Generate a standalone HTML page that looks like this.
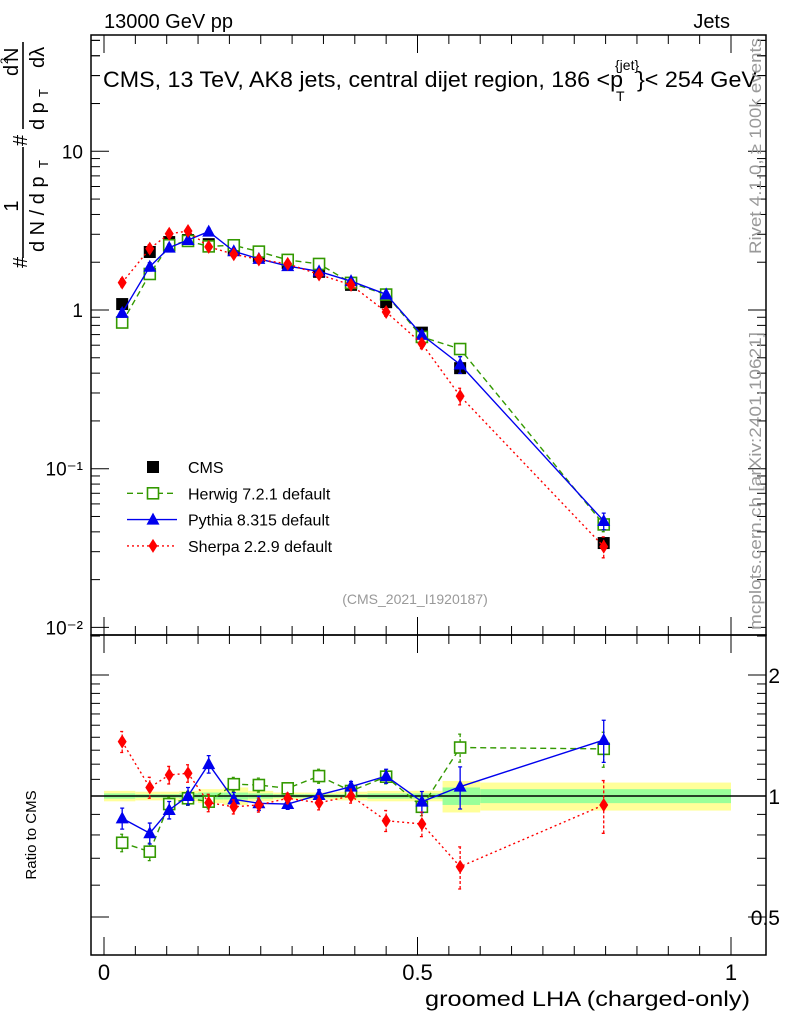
<!DOCTYPE html>
<html><head><meta charset="utf-8"><style>
body{margin:0;background:#fff;}
svg{display:block;font-family:"Liberation Sans",sans-serif;}
</style></head><body>
<svg id="c" width="786" height="1024" viewBox="0 0 786 1024"></svg>
<script>
const categories=[0.029,0.073,0.104,0.134,0.167,0.207,0.247,0.293,0.343,0.394,0.45,0.507,0.568,0.797];
const binEdges=[0,0.05,0.09,0.12,0.15,0.19,0.23,0.27,0.32,0.37,0.42,0.48,0.54,0.6,1.0];
const cmsValues=[1.09,2.32,2.68,2.76,2.6,2.39,2.19,1.98,1.74,1.44,1.12,0.72,0.43,0.034];
const herwigRatio=[0.765,0.727,0.955,0.987,0.968,1.07,1.065,1.045,1.121,1.029,1.117,0.94,1.32,1.31];
const pythiaRatio=[0.88,0.808,0.923,1.0,1.2,0.981,0.959,0.955,1.006,1.055,1.121,0.968,1.055,1.378];
const sherpaRatio=[1.365,1.05,1.128,1.139,0.962,0.94,0.95,0.987,0.962,1.0,0.868,0.852,0.667,0.95];
const herwigErr=[0.05,0.05,0.04,0.04,0.04,0.04,0.04,0.03,0.04,0.03,0.04,0.05,0.08,0.1];
const pythiaErr=[0.06,0.06,0.05,0.05,0.05,0.04,0.04,0.03,0.03,0.03,0.04,0.06,0.12,0.12];
const sherpaErr=[0.06,0.06,0.05,0.05,0.05,0.04,0.04,0.03,0.04,0.04,0.06,0.07,0.12,0.15];
const bandTotal=[0.03,0.025,0.025,0.03,0.04,0.05,0.03,0.02,0.02,0.025,0.03,0.03,0.09,0.08];
const bandStat=[0.015,0.01,0.01,0.015,0.02,0.02,0.015,0.01,0.01,0.01,0.015,0.015,0.05,0.04];
const mainTicks=[0.01,0.1,1,10];
const mainTickLabels=["10\u207B\u00B2","10\u207B\u00B9","1","10"];
const ratioTicks=[0.5,1,2];
const ratioTickLabels=["0.5","1","2"];
const xTicks=[0,0.5,1];
const xTickLabels=["0","0.5","1"];

const NS="http://www.w3.org/2000/svg";
const svg=document.getElementById('c');
function el(tag,attrs,parent){const e=document.createElementNS(NS,tag);for(const k in attrs)e.setAttribute(k,attrs[k]);(parent||svg).appendChild(e);return e;}
const L=91,R=766,T=35,MB=635,RB=955;
const X=v=>104+627*v;
const Y=v=>310-158.7*Math.log10(v);
const YR=r=>796-121*Math.log2(r);

let f=el('rect',{x:L,y:T,width:R-L,height:MB-T,fill:'none',stroke:'#000','stroke-width':1.5});

let f2=el('rect',{x:L,y:MB,width:R-L,height:RB-MB,fill:'none',stroke:'#000','stroke-width':1.5});


for(let i=0;i<categories.length;i++){
  const x0=X(binEdges[i]),x1=X(binEdges[i+1]);
  let b=el('rect',{x:x0,y:YR(1+bandTotal[i]),width:x1-x0,height:YR(1-bandTotal[i])-YR(1+bandTotal[i]),fill:'#ffff99'});
  
  let g=el('rect',{x:x0,y:YR(1+bandStat[i]),width:x1-x0,height:YR(1-bandStat[i])-YR(1+bandStat[i]),fill:'#99ff99'});
  
}
let one=el('line',{x1:L,x2:R,y1:YR(1),y2:YR(1),stroke:'#000','stroke-width':1.5});


for(let d=-2;d<=1;d++){for(let m=1;m<10;m++){const v=m*Math.pow(10,d);const y=Y(v);if(y<T||y>MB)continue;const len=m==1?18:9;
  el('line',{x1:L,x2:L+len,y1:y,y2:y,stroke:'#000'});el('line',{x1:R,x2:R-len,y1:y,y2:y,stroke:'#000'});}}
for(const v of [20,30,40,50]){const y=Y(v);if(y>T){el('line',{x1:L,x2:L+9,y1:y,y2:y,stroke:'#000'});el('line',{x1:R,x2:R-9,y1:y,y2:y,stroke:'#000'});}}
mainTicks.forEach((v,i)=>{let t=el('text',{x:L-8,y:Y(v)+7,'text-anchor':'end','font-size':19});t.textContent=mainTickLabels[i];
  });
[0.4,0.5,0.6,0.7,0.8,0.9,1,1.1,1.2,1.3,1.4,1.5,1.6,1.7,1.8,1.9,2,2.5].forEach(v=>{const y=YR(v);if(y<MB||y>RB)return;const len=[0.5,1,2].includes(v)?18:9;
  el('line',{x1:L,x2:L+len,y1:y,y2:y,stroke:'#000'});el('line',{x1:R,x2:R-len,y1:y,y2:y,stroke:'#000'});});
ratioTicks.forEach((v,i)=>{let t=el('text',{x:780,y:YR(v)+8,'font-size':21,'text-anchor':'end'});t.textContent=ratioTickLabels[i];
  });
for(let k=0;k<=20;k++){const v=k*0.05;const x=X(v);if(x>R)continue;const len=k%10==0?18:9;
  el('line',{x1:x,x2:x,y1:MB,y2:MB-len,stroke:'#000'});el('line',{x1:x,x2:x,y1:T,y2:T+len,stroke:'#000'});
  el('line',{x1:x,x2:x,y1:RB,y2:RB-len,stroke:'#000'});el('line',{x1:x,x2:x,y1:MB,y2:MB+len,stroke:'#000'});}
xTicks.forEach((v,i)=>{let t=el('text',{x:X(v),y:980,'text-anchor':'middle','font-size':22});t.textContent=xTickLabels[i];
  });

const series=[
 {name:'herwig',ratio:herwigRatio,err:herwigErr,color:'#339900',dash:'6,4',marker:'sq'},
 {name:'pythia',ratio:pythiaRatio,err:pythiaErr,color:'#0000ee',dash:'',marker:'tri'},
 {name:'sherpa',ratio:sherpaRatio,err:sherpaErr,color:'#ff0000',dash:'2,3',marker:'dia'}];
function marker(type,x,y,c,name){let m;
  if(type=='sq')m=el('rect',{x:x-5.5,y:y-5.5,width:11,height:11,fill:'#fff',stroke:c,'stroke-width':1.6});
  else if(type=='tri')m=el('polygon',{points:`${x},${y-7} ${x-6.5},${y+5} ${x+6.5},${y+5}`,fill:c});
  else if(type=='dia')m=el('polygon',{points:`${x},${y-7} ${x-4.5},${y} ${x},${y+7} ${x+4.5},${y}`,fill:c});
  else m=el('rect',{x:x-6,y:y-6,width:12,height:12,fill:'#000'});
  }
function drawSeries(s,ratioPanel){
  const vals=categories.map((c,i)=>ratioPanel?s.ratio[i]:s.ratio[i]*cmsValues[i]);
  const yf=ratioPanel?YR:Y;
  let d=vals.map((v,i)=>(i?'L':'M')+X(categories[i])+','+yf(v)).join(' ');
  let p=el('path',{d,fill:'none',stroke:s.color,'stroke-width':1.4,'stroke-dasharray':s.dash});
  
  vals.forEach((v,i)=>{const x=X(categories[i]);const e=s.err[i];
    const lo=yf(v*(1-e)),hi=yf(v*(1+e));
    let eb=el('path',{d:`M${x},${lo}L${x},${hi}M${x-2},${lo}L${x+2},${lo}M${x-2},${hi}L${x+2},${hi}`,stroke:s.color,'stroke-width':1.3,'stroke-dasharray':s.dash?'3,2':'',fill:'none'});
    
    marker(s.marker,x,yf(v),s.color,s.name+'-point');});
}
cmsValues.forEach((v,i)=>marker('cms',X(categories[i]),Y(v),'#000','cms-point'));
series.forEach(s=>{drawSeries(s,false);drawSeries(s,true);});

function txt(s,attrs,name,parent){let t=el('text',attrs,parent);t.textContent=s;return t;}
txt('13000 GeV pp',{x:104,y:28,'font-size':20},'beam-label');
txt('Jets',{x:730,y:28,'font-size':20,'text-anchor':'end'},'process-label');
txt('CMS, 13 TeV, AK8 jets, central dijet region, 186 <p',{x:103,y:87,'font-size':22,textLength:520,lengthAdjust:'spacingAndGlyphs'},'plot-title');
txt('T',{x:616,y:101,'font-size':14},'title-sub');
txt('{jet}',{x:615,y:70,'font-size':14},'title-sup');
txt('}< 254 GeV',{x:637,y:87,'font-size':22,textLength:120,lengthAdjust:'spacingAndGlyphs'},'plot-title-end');
txt('(CMS_2021_I1920187)',{x:415,y:604,'font-size':14,fill:'#999','text-anchor':'middle'},'analysis-id');
txt('Rivet 4.1.0, \u2265 100k events',{x:0,y:0,'font-size':17,fill:'#999','text-anchor':'end',textLength:216,lengthAdjust:'spacingAndGlyphs',transform:'translate(761,38) rotate(-90)'},'rivet-label');
txt('mcplots.cern.ch [arXiv:2401.10621]',{x:0,y:0,'font-size':17,fill:'#999','text-anchor':'end',textLength:298,lengthAdjust:'spacingAndGlyphs',transform:'translate(761,332) rotate(-90)'},'mcplots-label');
txt('groomed LHA (charged-only)',{x:750,y:1006,'font-size':21,'text-anchor':'end',textLength:325,lengthAdjust:'spacingAndGlyphs'},'x-axis-title');
txt('Ratio to CMS',{x:0,y:0,'font-size':15,'text-anchor':'middle',transform:'translate(36,835) rotate(-90)'},'ratio-axis-title');

let g=el('g',{});
function rt(s,x,y,fs,anchor){let t=el('text',{transform:`translate(${x},${y}) rotate(-90)`,'font-size':fs,'text-anchor':anchor||'start'},g);t.textContent=s;}
rt('#',27,268,20);
rt('1',18,206,20,'middle');
rt('d N / d p',44,252,20);
rt('T',48,168,13);
rt('#',27,146,20);
rt('d',18,76,20);
rt('2',8,64,11);
rt('N',18,62,20);
rt('d p',44,130,20);
rt('T',48,97,13);
rt('d\u03bb',44,68,20);
el('line',{x1:23,x2:23,y1:147,y2:258,stroke:'#000','stroke-width':1.6},g);
el('line',{x1:23,x2:23,y1:42,y2:129,stroke:'#000','stroke-width':1.6},g);

const leg=[['CMS','cms','#000',''],['Herwig 7.2.1 default','sq','#339900','6,4'],['Pythia 8.315 default','tri','#0000ee',''],['Sherpa 2.2.9 default','dia','#ff0000','2,3']];
leg.forEach((l,i)=>{const y=467+i*26.3;
  if(i>0){let ln=el('line',{x1:127,x2:177,y1:y,y2:y,stroke:l[2],'stroke-width':1.4,'stroke-dasharray':l[3]});}
  marker(l[1],153,y,l[2],'legend-marker');
  txt(l[0],{x:188,y:y+6,'font-size':16},'legend-entry');});
</script>
</body></html>
